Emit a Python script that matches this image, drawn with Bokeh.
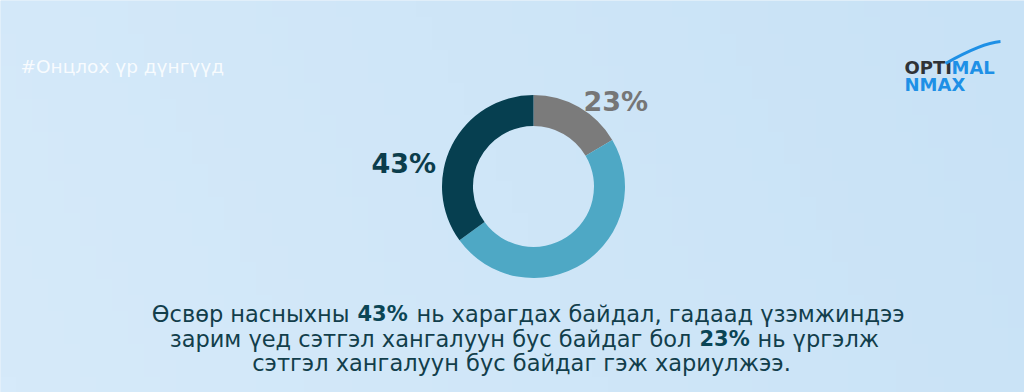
import numpy as np
from bokeh.plotting import figure
from bokeh.models import Range1d
from bokeh.core.properties import value
from bokeh.embed import file_html
from bokeh.resources import INLINE

# ---- data ----
segments = ["Үргэлж", "Заримдаа", "Харагдах байдал"]
shares = [16.5, 48.5, 35.0]          # drawn proportions
seg_colors = ["#7b7b7b", "#4ea8c5", "#063f50"]
label_texts = ["23%", "43%"]
title_text = "#Онцлох үр дүнгүүд"
line1 = ["Өсвөр насныхны", "43%", "нь харагдах байдал, гадаад үзэмжиндээ"]
line2 = ["зарим үед сэтгэл хангалуун бус байдаг бол", "23%", "нь үргэлж"]
line3 = ["сэтгэл хангалуун бус байдаг гэж хариулжээ."]

W, H = 1024, 392
def Y(py):
    return H - py

p = figure(width=W, height=H, output_backend="svg", toolbar_location=None,
           x_range=Range1d(0, W), y_range=Range1d(0, H), min_border=0)
p.axis.visible = False
p.grid.visible = False
p.outline_line_color = None

# background gradient
nx, ny = 64, 24
gx = np.linspace(0, 1, nx)[None, :]
gy = np.linspace(0, 1, ny)[:, None]   # 0 bottom -> 1 top
c_left = np.array([0xd6, 0xea, 0xfa])
c_right = np.array([0xc8, 0xe2, 0xf6])
t = np.clip(gx * 0.85 + gy * 0.15, 0, 1)
img = np.zeros((ny, nx), dtype=np.uint32)
view = img.view(dtype=np.uint8).reshape((ny, nx, 4))
for k in range(3):
    view[:, :, k] = (c_left[k] * (1 - t) + c_right[k] * t).astype(np.uint8)
view[:, :, 3] = 255
p.image_rgba(image=[img], x=0, y=0, dw=W, dh=H)
p.background_fill_color = "#cfe6f8"
p.border_fill_color = "#cfe6f8"

# donut
cx, cy = 533, Y(186)
fr = np.array(shares) / sum(shares)
cum = np.cumsum(fr)
prev = np.concatenate([[0], cum[:-1]])
start = np.pi / 2 - 2 * np.pi * prev
end = np.pi / 2 - 2 * np.pi * cum
p.annular_wedge(x=cx, y=cy, inner_radius=60.5, outer_radius=91.5,
                start_angle=start, end_angle=end, direction="clock",
                fill_color=seg_colors, line_color=None)

# percent labels
p.text(x=[583], y=[Y(101)], text=[label_texts[0]], text_font=value("DejaVu Sans"),
       text_font_style="bold", text_font_size="27px", text_color="#767676",
       text_baseline="alphabetic", text_align="left")
p.text(x=[371], y=[Y(163)], text=[label_texts[1]], text_font=value("DejaVu Sans"),
       text_font_style="bold", text_font_size="27px", text_color="#0b3d4c",
       text_baseline="alphabetic", text_align="left")

# title
p.text(x=[20], y=[Y(66)], text=[title_text], text_font=value("DejaVu Sans"),
       text_font_size="18.5px", text_color="#ffffff", text_alpha=0.85,
       text_baseline="alphabetic", text_align="left")

# logo
p.text(x=[904], y=[Y(67)], text=["OPTI"], text_font=value("DejaVu Sans"),
       text_font_style="bold", text_font_size="18px", text_color="#2f3236",
       text_baseline="alphabetic")
p.text(x=[951], y=[Y(67)], text=["MAL"], text_font=value("DejaVu Sans"),
       text_font_style="bold", text_font_size="18px", text_color="#1e90e6",
       text_baseline="alphabetic")
p.text(x=[904], y=[Y(84)], text=["NMAX"], text_font=value("DejaVu Sans"),
       text_font_style="bold", text_font_size="18px", text_color="#1e90e6",
       text_baseline="alphabetic")
p.bezier(x0=[945], y0=[Y(63)], x1=[1000], y1=[Y(41)], cx0=[968], cy0=[Y(50)],
         cx1=[988], cy1=[Y(42)], line_color="#1e90e6", line_width=3)

# bottom paragraph
dark = "#123e4b"
fs = "22.5px"
reg = dict(text_font=value("DejaVu Sans"), text_font_size=fs, text_color=dark,
           text_baseline="alphabetic", text_align="left")
bold = dict(reg, text_font_style="bold", text_color="#0a4555", text_font_size="21px")
p.text(x=[349], y=[Y(313)], text=[line1[0]], **dict(reg, text_align="right"))
p.text(x=[357], y=[Y(313)], text=[line1[1]], **bold)
p.text(x=[416], y=[Y(313)], text=[line1[2]], **reg)
p.text(x=[691], y=[Y(338)], text=[line2[0]], **dict(reg, text_align="right"))
p.text(x=[699], y=[Y(338)], text=[line2[1]], **bold)
p.text(x=[757], y=[Y(338)], text=[line2[2]], **reg)
p.text(x=[521], y=[Y(362)], text=[line3[0]], **dict(reg, text_align="center"))

open("out.html", "w").write(file_html(p, INLINE))
